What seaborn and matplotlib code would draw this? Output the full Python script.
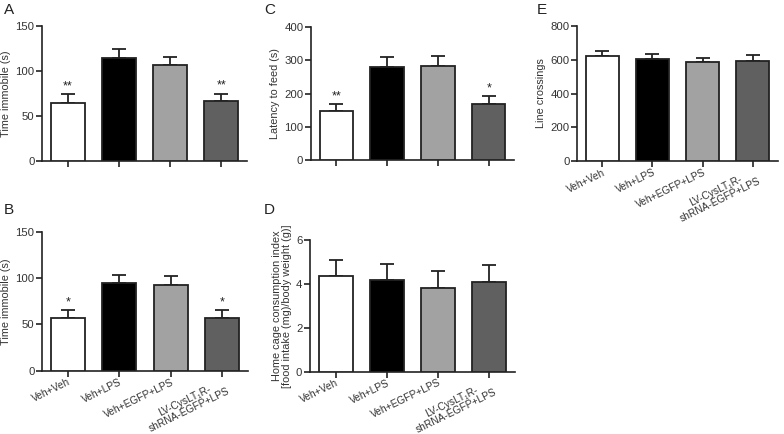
import pandas as pd
import seaborn as sns
import matplotlib.pyplot as plt
import numpy as np

groups = ['Veh+Veh', 'Veh+LPS', 'Veh+EGFP+LPS', 'LV-CysLT\u2081R-\nshRNA-EGFP+LPS']
colors = ['#ffffff', '#000000', '#a2a2a2', '#606060']

# mean and top of error bar (mean + SEM)
a_mean = [65, 114, 107, 67]
a_top = [74, 124, 116, 75]
a_star = ['**', '', '', '**']

b_mean = [57, 94.5, 92.5, 56.5]
b_top = [65.5, 103.5, 102, 65.5]
b_star = ['*', '', '', '*']

c_mean = [148, 280, 284, 168]
c_top = [168, 309, 312, 192]
c_star = ['**', '', '', '*']

d_mean = [4.37, 4.19, 3.80, 4.10]
d_top = [5.09, 4.91, 4.57, 4.87]

e_mean = [621, 604, 584, 594]
e_top = [651, 636, 609, 629]

sns.set_style('ticks')
plt.rcParams['font.family'] = ['Liberation Sans', 'DejaVu Sans']

fig = plt.figure(figsize=(7.84, 4.34), dpi=100)
lc = '#222222'


def panel(rect, mean, top, ymax, yticks, ylabel, stars=None, xlabels=False):
    ax = fig.add_axes(rect)
    df = pd.DataFrame({'group': groups, 'val': mean})
    sns.barplot(data=df, x='group', y='val', hue='group', palette=colors,
                legend=False, errorbar=None, width=0.66, edgecolor=lc,
                linewidth=1.3, ax=ax, zorder=3)
    err = np.array(top) - np.array(mean)
    ax.errorbar(range(4), mean, yerr=[np.zeros(4), err], fmt='none',
                ecolor=lc, elinewidth=1.3, capsize=5, capthick=1.3, zorder=2)
    if stars:
        for i, s in enumerate(stars):
            if s:
                ax.text(i, top[i] + ymax * 0.015, s, ha='center', va='bottom',
                        fontsize=9, color=lc)
    ax.set_xlim(-0.5, 3.5)
    ax.set_ylim(0, ymax)
    ax.set_yticks(yticks)
    ax.set_xlabel('')
    ax.set_ylabel(ylabel, fontsize=7.8, color='#333333', labelpad=3, linespacing=1.0)
    sns.despine(ax=ax)
    for sp in ['left', 'bottom']:
        ax.spines[sp].set_linewidth(1.2)
        ax.spines[sp].set_color(lc)
    ax.tick_params(axis='both', direction='out', length=4, width=1.2,
                   color=lc, labelsize=8.2, labelcolor='#333333', pad=1.5)
    ax.tick_params(axis='x', pad=0.5)
    ax.set_xticks(range(4))
    if xlabels:
        ax.set_xticklabels(groups, rotation=26, ha='right', fontsize=7.3,
                           rotation_mode='anchor', multialignment='center',
                           linespacing=1.0)
    else:
        ax.set_xticklabels([])
    return ax


panel([0.0536, 0.629, 0.2615, 0.311], a_mean, a_top, 150, [0, 50, 100, 150],
      'Time immobile (s)', a_star)
panel([0.0536, 0.146, 0.263, 0.3195], b_mean, b_top, 150, [0, 50, 100, 150],
      'Time immobile (s)', b_star, xlabels=True)
panel([0.3967, 0.6313, 0.259, 0.3065], c_mean, c_top, 400, [0, 100, 200, 300, 400],
      'Latency to feed (s)', c_star)
panel([0.3954, 0.144, 0.2615, 0.303], d_mean, d_top, 6, [0, 2, 4, 6],
      'Home cage consumption index\n[food intake (mg)/body weight (g)]',
      xlabels=True)
panel([0.736, 0.629, 0.2564, 0.311], e_mean, e_top, 800, [0, 200, 400, 600, 800],
      'Line crossings', xlabels=True)

for letter, x, y in [('A', 4, 3), ('B', 4, 203), ('C', 264, 3), ('D', 264, 203), ('E', 537, 3)]:
    fig.text(x / 784, 1 - y / 434, letter, fontsize=11, ha='left', va='top', color=lc)

fig.savefig('out.png', dpi=100)
